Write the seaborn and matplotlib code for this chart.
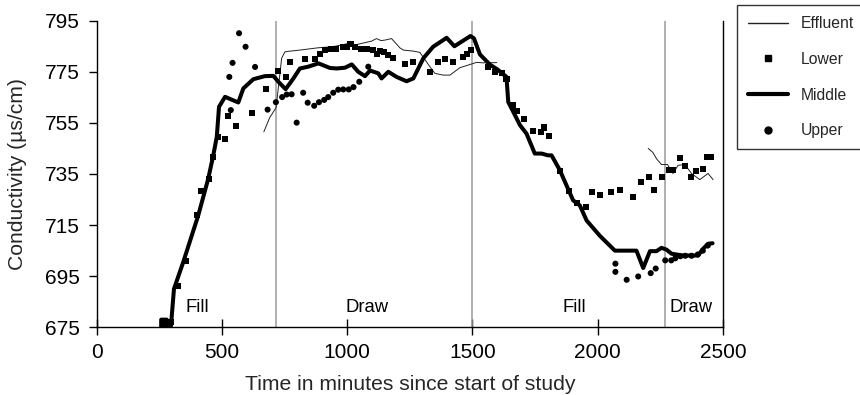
import matplotlib
matplotlib.use("Agg")
import matplotlib.pyplot as plt
from matplotlib.lines import Line2D
import numpy as np
import pandas as pd
import seaborn as sns

# ---- data -------------------------------------------------------------
effluent_a_t = [667, 690, 716, 738, 751, 764, 811, 884, 940, 978, 1004, 1031,
                1097, 1117, 1135, 1150, 1177, 1210, 1224, 1264, 1290, 1330,
                1350, 1383, 1410, 1450, 1517, 1543, 1597]
effluent_a_v = [751.5, 757, 761, 780.3, 782.8, 783, 783.5, 784.4, 784.8, 785.5,
                786.1, 785.5, 787, 788, 787.2, 787.4, 788, 784.4, 783.5, 783.1,
                782.6, 777, 774.4, 773.7, 773.7, 776.6, 778.7, 778.5, 778.6]
effluent_b_t = [2202, 2220, 2235, 2255, 2279, 2301, 2321, 2348, 2375, 2408,
                2441, 2461]
effluent_b_v = [745, 743.5, 741, 738.7, 738.7, 735.2, 738.4, 738.7, 735.2,
                732.8, 735.2, 732.8]

middle_t = [257, 257, 279, 279, 296, 308, 345, 405, 445, 465, 479, 488, 512,
            565, 585, 625, 671, 705, 725, 754, 785, 811, 844, 885, 931, 958,
            991, 1018, 1044, 1071, 1091, 1124, 1137, 1164, 1197, 1237, 1264,
            1304, 1343, 1397, 1428, 1492, 1506, 1530, 1570, 1600, 1636, 1643,
            1670, 1690, 1716, 1749, 1776, 1802, 1816, 1849, 1902, 1929, 1956,
            2009, 2069, 2155, 2182, 2209, 2235, 2255, 2275, 2295, 2341, 2401,
            2421, 2441, 2459]
middle_v = [674, 678, 678, 675.5, 675.5, 690, 700.5, 718.8, 733.2, 742.3,
            749.5, 761.3, 765.2, 763, 768.5, 772.1, 773.3, 773.4, 771.1,
            768.2, 772.4, 776.3, 777, 778.3, 776.5, 776.3, 776.6, 777.9, 775,
            773.3, 775.5, 774.4, 772.4, 775, 773, 771.3, 772.4, 780.3, 784.8,
            788.3, 785, 789, 788.1, 781.8, 777.8, 775.9, 773, 763.2, 758,
            754.1, 750.8, 743, 743, 742.3, 742.3, 736.5, 724.7, 722.7, 716.8,
            710.8, 705, 705, 698.2, 704.8, 704.8, 706.1, 705.4, 703.8, 703.1,
            703.1, 705.7, 707.7, 707.9]

lower_t = [272, 295, 323, 355, 401, 416, 449, 465, 485, 512, 522, 554, 618,
           675, 724, 754, 771, 830, 870, 890, 911, 936, 957, 982, 1000, 1013,
           1031, 1054, 1077, 1102, 1117, 1131, 1146, 1164, 1184, 1230, 1264,
           1331, 1361, 1390, 1421, 1461, 1479, 1493, 1563, 1590, 1617, 1636,
           1663, 1676, 1707, 1740, 1772, 1785, 1805, 1849, 1886, 1918, 1954,
           1977, 2010, 2052, 2090, 2142, 2175, 2206, 2226, 2258, 2285, 2302,
           2328, 2348, 2372, 2394, 2419, 2436, 2452]
lower_v = [676.3, 676.9, 691.1, 700.9, 718.8, 728.2, 733.2, 741.7, 749.5,
           748.6, 757.7, 753.7, 758.7, 768.2, 775.2, 773, 778.8, 780, 780,
           782, 783.4, 783.8, 784, 784.6, 784.8, 786, 784.8, 784, 783.8, 783.6,
           781.8, 783.1, 782.8, 781.5, 780.4, 778.2, 778.7, 774.9, 778.8, 780,
           778.9, 780.9, 781.8, 783.5, 777, 775, 774.4, 772, 762, 759.7, 756.7,
           751.9, 751.5, 753.2, 749.9, 736.1, 728.4, 723.6, 722, 728, 726.8,
           728, 728.8, 726.1, 731.8, 733.7, 728.6, 733.7, 736.7, 736.7, 741.2,
           738, 733.7, 736.2, 736.8, 741.7, 741.7]

upper_t = [529, 535, 542, 568, 594, 632, 682, 715, 740, 758, 778, 798, 824,
           842, 868, 887, 908, 924, 944, 964, 984, 1006, 1025, 1048, 1084,
           2071, 2071, 2116, 2162, 2212, 2232, 2270, 2294, 2310, 2330, 2350,
           2375, 2400, 2420, 2440]
upper_v = [773, 760, 778.5, 790.1, 784.8, 776.9, 760.2, 763.1, 765.1, 766.1,
           766.2, 755.1, 766.8, 762.9, 761.7, 763.1, 764, 765.1, 766.8, 768,
           768.1, 768.1, 769, 771.1, 777, 699.9, 696.7, 693.6, 694.9, 696.2,
           698, 701.2, 701.2, 702, 702.8, 703, 703, 703.5, 705, 707]

phase_bounds = [714, 1500, 2268]
phase_labels = ["Fill", "Draw", "Fill", "Draw"]
phase_label_t = [402, 1079, 1908, 2375]

# ---- frames ------------------------------------------------------------
effluent = pd.DataFrame({
    "t": effluent_a_t + effluent_b_t,
    "v": effluent_a_v + effluent_b_v,
    "run": ["a"] * len(effluent_a_t) + ["b"] * len(effluent_b_t),
})
middle = pd.DataFrame({"t": middle_t, "v": middle_v})
lower = pd.DataFrame({"t": lower_t, "v": lower_v})
upper = pd.DataFrame({"t": upper_t, "v": upper_v})

# ---- styling -----------------------------------------------------------
sns.set_theme(style="white")
plt.rcParams["font.family"] = ["Liberation Sans", "DejaVu Sans"]

fig = plt.figure(figsize=(8.6, 3.95), dpi=100)
ax = fig.add_axes([0.1126, 0.1714, 0.7279, 0.7762])

for b in phase_bounds:
    ax.axvline(b, color="#9a9a9a", lw=1.1, zorder=1)

sns.lineplot(data=effluent, x="t", y="v", units="run", estimator=None,
             sort=False, color="#222222", lw=0.7, ax=ax, zorder=3)
sns.scatterplot(data=lower, x="t", y="v", marker="s", s=19, color="black",
                edgecolor="none", ax=ax, zorder=4)
sns.scatterplot(data=upper, x="t", y="v", marker="o", s=19, color="black",
                edgecolor="none", ax=ax, zorder=4)
sns.lineplot(data=middle, x="t", y="v", sort=False, estimator=None,
             color="black", lw=2.9, ax=ax, zorder=5)

for lab, t in zip(phase_labels, phase_label_t):
    ax.text(t, 682.7, lab, ha="center", va="center", fontsize=13.3,
            color="black")

ax.set_xlim(0, 2500)
ax.set_ylim(675, 795)
ax.set_xticks(np.arange(0, 2501, 500))
ax.set_yticks(np.arange(675, 796, 20))
ax.set_xlabel("Time in minutes since start of study", fontsize=15.2,
              labelpad=10)
ax.set_ylabel("Conductivity (µs/cm)", fontsize=15.2, labelpad=13)

ax.spines["top"].set_visible(False)
for s in ("left", "bottom", "right"):
    ax.spines[s].set_color("black")
    ax.spines[s].set_linewidth(1.0)
ax.tick_params(axis="x", direction="inout", length=11, width=1.0,
               labelsize=15, colors="black", pad=5.5, bottom=True)
ax.tick_params(axis="y", direction="out", length=6, width=1.0,
               labelsize=15, colors="black", pad=6.5, left=True)

handles = [
    Line2D([], [], color="#222222", lw=1.0),
    Line2D([], [], color="black", lw=0, marker="s", markersize=5),
    Line2D([], [], color="black", lw=3.0),
    Line2D([], [], color="black", lw=0, marker="o", markersize=5),
]
leg = fig.legend(handles, ["Effluent", "Lower", "Middle", "Upper"],
                 loc="upper left", bbox_to_anchor=(0.8566, 0.987),
                 frameon=True, fancybox=False, edgecolor="black",
                 fontsize=11.3, handlelength=2.6, handletextpad=0.76,
                 labelspacing=1.32, borderpad=0.7, borderaxespad=0)
leg.get_frame().set_linewidth(1.0)

fig.savefig("out.png", dpi=100)
